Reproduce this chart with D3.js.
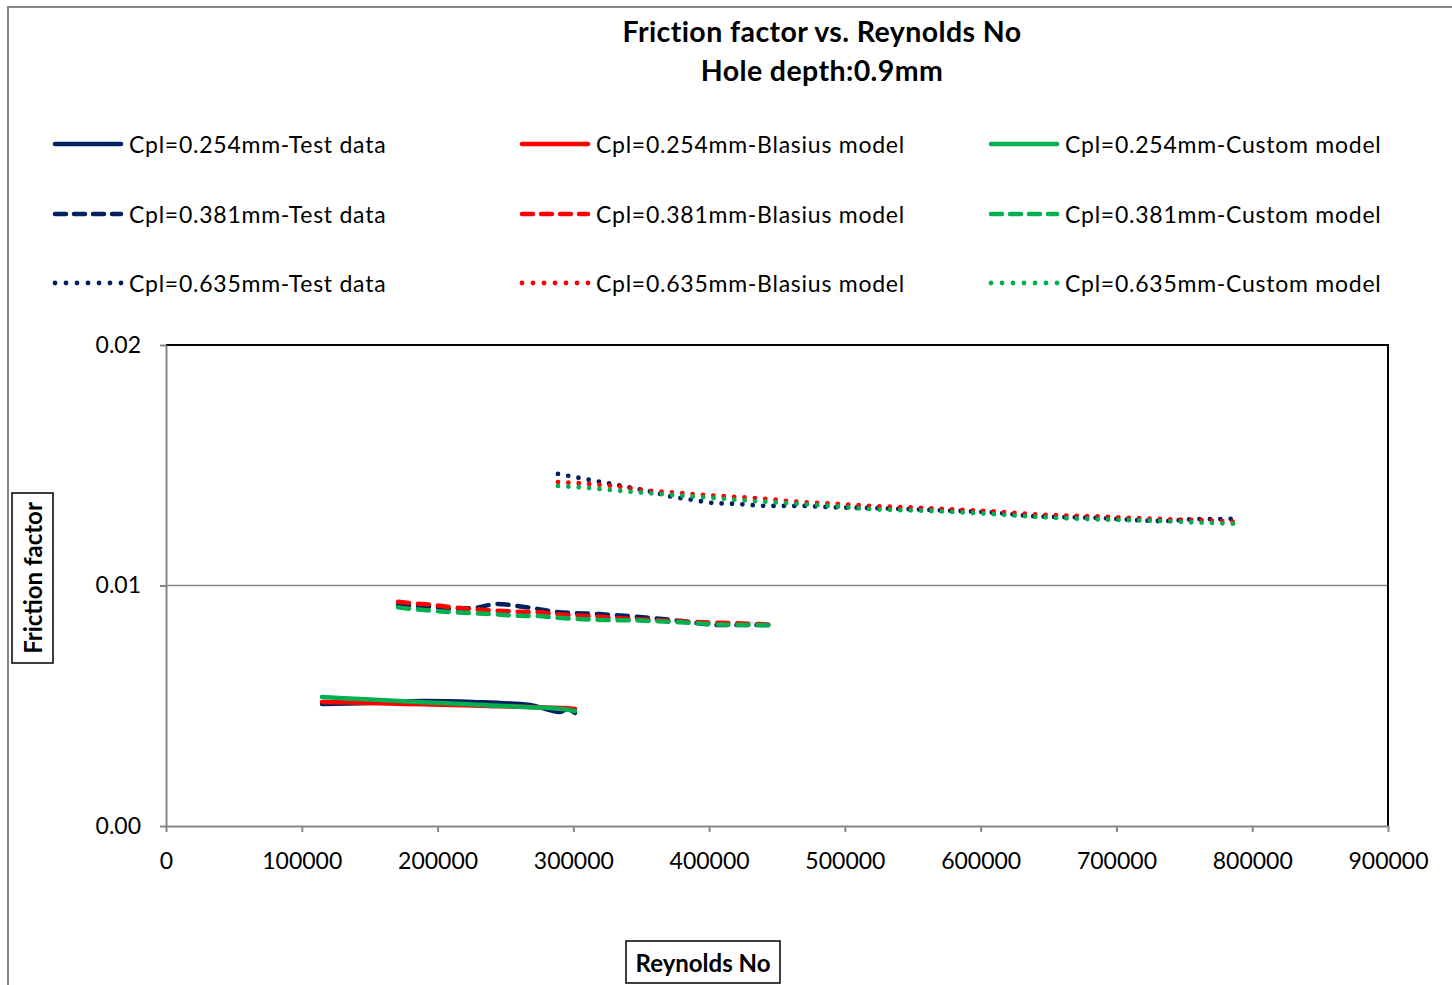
<!DOCTYPE html>
<html>
<head>
<meta charset="utf-8">
<script src="https://cdn.jsdelivr.net/npm/d3@7"></script>
<style>
  html, body { margin: 0; padding: 0; background: #fff; }
  svg { display: block; font-family: Lato, "Open Sans", sans-serif; }
</style>
</head>
<body>
<svg id="chart" width="1452" height="985"></svg>
<script>
// Reynolds numbers for each clearance group
const reCpl254 = [114900, 150200, 189300, 226100, 268100, 290200, 295300, 301200];
const reCpl381 = [170900, 181900, 196600, 211400, 227600, 243800, 258500, 273200, 288000, 319600, 349100, 378600, 408000, 444800];
const reCpl635 = [288700, 312300, 335800, 357900, 373400, 388100, 402900, 420500, 442600, 466900, 489000, 518500, 562700, 614200, 636300, 685700, 734300, 759300, 782100, 791000];

// Friction factor, Cpl = 0.254 mm
const ffTest254    = [0.00507, 0.00511, 0.00520, 0.00516, 0.00503, 0.00474, 0.00486, 0.00470];
const ffBlasius254 = [0.00516, 0.00511, 0.00506, 0.00501, 0.00495, 0.00491, 0.00490, 0.00487];
const ffCustom254  = [0.00536, 0.00526, 0.00515, 0.00505, 0.00494, 0.00487, 0.00484, 0.00478];

// Friction factor, Cpl = 0.381 mm
const ffTest381    = [0.00919, 0.00915, 0.00911, 0.00903, 0.00907, 0.00923, 0.00915, 0.00903, 0.00890, 0.00881, 0.00869, 0.00853, 0.00836, 0.00836];
const ffBlasius381 = [0.00932, 0.00926, 0.00919, 0.00909, 0.00901, 0.00895, 0.00891, 0.00889, 0.00881, 0.00870, 0.00859, 0.00851, 0.00845, 0.00838];
const ffCustom381  = [0.00909, 0.00902, 0.00895, 0.00889, 0.00884, 0.00880, 0.00874, 0.00873, 0.00866, 0.00857, 0.00854, 0.00847, 0.00838, 0.00835];

// Friction factor, Cpl = 0.635 mm
const ffTest635    = [0.01464, 0.01439, 0.01414, 0.01389, 0.01368, 0.01356, 0.01343, 0.01339, 0.01331, 0.01331, 0.01326, 0.01322, 0.01314, 0.01301, 0.01289, 0.01281, 0.01268, 0.01276, 0.01276, 0.01293];
const ffBlasius635 = [0.01430, 0.01422, 0.01410, 0.01393, 0.01387, 0.01380, 0.01374, 0.01368, 0.01360, 0.01347, 0.01341, 0.01331, 0.01321, 0.01306, 0.01297, 0.01287, 0.01276, 0.01272, 0.01266, 0.01264];
const ffCustom635  = [0.01414, 0.01405, 0.01393, 0.01383, 0.01376, 0.01370, 0.01364, 0.01356, 0.01348, 0.01339, 0.01331, 0.01318, 0.01310, 0.01295, 0.01287, 0.01275, 0.01268, 0.01262, 0.01258, 0.01256];

const xTicks = [0, 100000, 200000, 300000, 400000, 500000, 600000, 700000, 800000, 900000];
const yTicks = [0, 0.01, 0.02];

const titleLines = ["Friction factor vs. Reynolds No", "Hole depth:0.9mm"];
const xTitle = "Reynolds No";
const yTitle = "Friction factor";

const NAVY = "#002060", RED = "#FF0000", GREEN = "#00B050";
const AXIS_GREY = "#868686";

const series = [
  { name: "Cpl=0.254mm-Test data",      re: reCpl254, ff: ffTest254,    color: NAVY,  style: "solid" },
  { name: "Cpl=0.254mm-Blasius model",  re: reCpl254, ff: ffBlasius254, color: RED,   style: "solid" },
  { name: "Cpl=0.254mm-Custom model",   re: reCpl254, ff: ffCustom254,  color: GREEN, style: "solid" },
  { name: "Cpl=0.381mm-Test data",      re: reCpl381, ff: ffTest381,    color: NAVY,  style: "dash" },
  { name: "Cpl=0.381mm-Blasius model",  re: reCpl381, ff: ffBlasius381, color: RED,   style: "dash" },
  { name: "Cpl=0.381mm-Custom model",   re: reCpl381, ff: ffCustom381,  color: GREEN, style: "dash" },
  { name: "Cpl=0.635mm-Test data",      re: reCpl635, ff: ffTest635,    color: NAVY,  style: "dot" },
  { name: "Cpl=0.635mm-Blasius model",  re: reCpl635, ff: ffBlasius635, color: RED,   style: "dot" },
  { name: "Cpl=0.635mm-Custom model",   re: reCpl635, ff: ffCustom635,  color: GREEN, style: "dot" }
];

const lineStyles = {
  solid: { width: 4.5, dash: null },
  dash:  { width: 4.5, dash: "11 9" },
  dot:   { width: 4.8, dash: "0 10.4" }
};

const svg = d3.select("#chart");

// chart frame
svg.append("path")
  .attr("d", "M8,990 L8,7 L1460,7")
  .attr("fill", "none").attr("stroke", AXIS_GREY).attr("stroke-width", 2);

// plot area
const plot = { left: 166, right: 1388, top: 345, bottom: 826 };
const x = d3.scaleLinear().domain([0, 900000]).range([plot.left, plot.right]);
const y = d3.scaleLinear().domain([0, 0.02]).range([plot.bottom, plot.top]);

// gridline at 0.01
svg.append("g").selectAll("line")
  .data(yTicks.filter(t => t > 0 && t < 0.02))
  .join("line")
  .attr("x1", plot.left).attr("x2", plot.right)
  .attr("y1", d => y(d)).attr("y2", d => y(d))
  .attr("stroke", AXIS_GREY).attr("stroke-width", 1.5);

// top & right border
svg.append("path")
  .attr("d", `M${plot.left},${plot.top} L${plot.right},${plot.top} L${plot.right},${plot.bottom}`)
  .attr("fill", "none").attr("stroke", "#000").attr("stroke-width", 2);

// axes
const xAxis = d3.axisBottom(x).tickValues(xTicks).tickSize(6).tickSizeOuter(0).tickFormat(d3.format("d")).tickPadding(21);
const yAxis = d3.axisLeft(y).tickValues(yTicks).tickSize(6).tickSizeOuter(0).tickFormat(d3.format(".2f")).tickPadding(19);

const gx = svg.append("g").attr("transform", `translate(0,${plot.bottom})`).call(xAxis);
const gy = svg.append("g").attr("transform", `translate(${plot.left},0)`).call(yAxis);
[gx, gy].forEach(g => {
  g.select(".domain").attr("stroke", AXIS_GREY).attr("stroke-width", 2);
  g.selectAll(".tick line").attr("stroke", AXIS_GREY).attr("stroke-width", 2);
  g.selectAll(".tick text").attr("fill", "#000").style("font-size", "23px").style("font-family", "Lato, sans-serif");
});

// series lines
const line = d3.line().x(d => x(d[0])).y(d => y(d[1])).curve(d3.curveMonotoneX);
svg.append("g").selectAll("path")
  .data(series)
  .join("path")
  .attr("d", s => line(s.re.map((r, i) => [r, s.ff[i]])))
  .attr("fill", "none")
  .attr("stroke", s => s.color)
  .attr("stroke-width", s => lineStyles[s.style].width)
  .attr("stroke-dasharray", s => lineStyles[s.style].dash)
  .attr("stroke-linecap", "round")
  .attr("stroke-linejoin", "round");

// title
svg.append("g").selectAll("text")
  .data(titleLines)
  .join("text")
  .attr("x", 822).attr("y", (d, i) => 31 + i * 39)
  .attr("text-anchor", "middle").attr("dominant-baseline", "central")
  .style("font-size", "28.5px").style("font-weight", "bold").style("letter-spacing", "0.4px")
  .text(d => d);

// legend
const legendCols = [53, 520, 989];
const legendRows = [144, 214, 283];
const leg = svg.append("g").selectAll("g")
  .data(series)
  .join("g")
  .attr("transform", (s, i) => `translate(${legendCols[i % 3]},${legendRows[Math.floor(i / 3)]})`);
leg.append("line")
  .attr("x1", 2).attr("x2", s => s.style === "dot" ? 68.5 : 68).attr("y1", 0).attr("y2", 0)
  .attr("stroke", s => s.color)
  .attr("stroke-width", s => lineStyles[s.style].width)
  .attr("stroke-dasharray", s => s.style === "dash" ? "11 8" : s.style === "dot" ? "0 11" : null)
  .attr("stroke-linecap", "round");
leg.append("text")
  .attr("x", 76).attr("y", 0)
  .attr("dominant-baseline", "central")
  .style("font-size", "23px").style("letter-spacing", "0.75px")
  .text(s => s.name);

// axis titles with boxes
const xt = svg.append("g").attr("transform", "translate(703,962)");
xt.append("rect").attr("x", -77).attr("y", -21).attr("width", 154).attr("height", 42)
  .attr("fill", "#fff").attr("stroke", "#000").attr("stroke-width", 1.5);
xt.append("text").attr("text-anchor", "middle").attr("dominant-baseline", "central")
  .style("font-size", "24px").style("font-weight", "bold").text(xTitle);

const yt = svg.append("g").attr("transform", "translate(32,578) rotate(-90)");
yt.append("rect").attr("x", -85).attr("y", -20).attr("width", 170).attr("height", 41)
  .attr("fill", "#fff").attr("stroke", "#000").attr("stroke-width", 1.5);
yt.append("text").attr("text-anchor", "middle").attr("dominant-baseline", "central")
  .style("font-size", "24px").style("font-weight", "bold").text(yTitle);
</script>
</body>
</html>
